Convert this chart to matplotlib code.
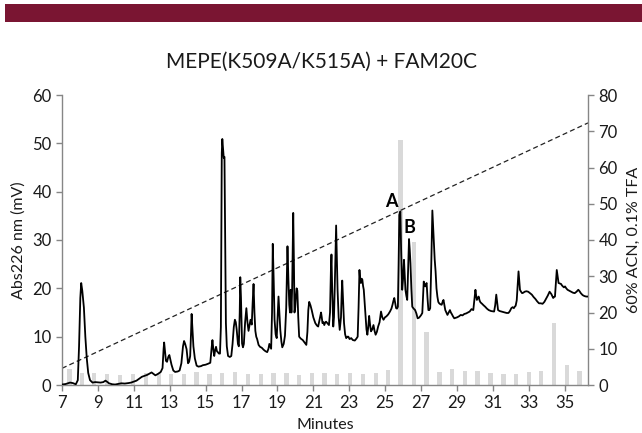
import matplotlib
matplotlib.use('Agg')
import matplotlib.pyplot as plt
from matplotlib.patches import Rectangle

plt.rcParams['font.family'] = ['Lato', 'DejaVu Sans']

# ---------------- data ----------------
trace_min = [7.0, 7.2, 7.45, 7.6, 7.77, 7.88, 7.95, 8.02, 8.07, 8.13, 8.22, 8.3, 8.38, 8.46, 8.56, 8.7, 8.85,
             9.0, 9.15, 9.3, 9.42, 9.5, 9.62, 9.8, 9.96, 10.1, 10.3, 10.5, 10.7, 10.85, 11.0, 11.15, 11.3, 11.45,
             11.6, 11.75, 11.9, 11.99, 12.1, 12.2, 12.35, 12.5, 12.6, 12.66, 12.69, 12.74, 12.79, 12.85, 12.92,
             12.98, 13.04, 13.1, 13.2, 13.3, 13.45, 13.55, 13.65, 13.74, 13.8, 13.86, 13.94, 14.02, 14.08, 14.14,
             14.19, 14.22, 14.26, 14.32, 14.4, 14.5, 14.6, 14.74, 14.85, 15.0, 15.14, 15.26, 15.33, 15.38, 15.44,
             15.48, 15.53, 15.58, 15.63, 15.68, 15.74, 15.8, 15.85, 15.9, 15.93, 15.97, 16.01, 16.05, 16.09, 16.13,
             16.18, 16.25, 16.35, 16.43, 16.5, 16.57, 16.63, 16.68, 16.73, 16.8, 16.85, 16.9, 16.93, 16.97, 17.03,
             17.08, 17.13, 17.2, 17.27, 17.33, 17.39, 17.45, 17.5, 17.57, 17.62, 17.67, 17.72, 17.77, 17.82, 17.87,
             17.95, 18.03, 18.13, 18.23, 18.33, 18.43, 18.5, 18.55, 18.6, 18.65, 18.7, 18.74, 18.79, 18.84, 18.9,
             18.96, 19.01, 19.06, 19.11, 19.16, 19.22, 19.27, 19.35, 19.42, 19.49, 19.56, 19.61, 19.66, 19.7, 19.74,
             19.78, 19.82, 19.88, 19.92, 19.95, 19.99, 20.03, 20.07, 20.11, 20.16, 20.21, 20.3, 20.41, 20.51, 20.61,
             20.67, 20.72, 20.77, 20.84, 20.91, 21.0, 21.11, 21.2, 21.27, 21.35, 21.43, 21.47, 21.51, 21.56, 21.61,
             21.67, 21.71, 21.78, 21.87, 21.93, 21.98, 22.01, 22.05, 22.11, 22.15, 22.19, 22.24, 22.27, 22.31, 22.35,
             22.41, 22.47, 22.54, 22.58, 22.61, 22.66, 22.71, 22.77, 22.83, 22.9, 22.95, 23.02, 23.11, 23.2, 23.31,
             23.4, 23.47, 23.52, 23.57, 23.61, 23.65, 23.69, 23.73, 23.77, 23.81, 23.86, 23.91, 23.96, 24.01, 24.06,
             24.11, 24.16, 24.21, 24.28, 24.35, 24.41, 24.47, 24.54, 24.61, 24.69, 24.77, 24.84, 24.91, 24.99, 25.07,
             25.17, 25.27, 25.35, 25.41, 25.46, 25.51, 25.56, 25.61, 25.66, 25.71, 25.75, 25.79, 25.85, 25.89, 25.95,
             26.0, 26.05, 26.09, 26.13, 26.18, 26.23, 26.28, 26.33, 26.37, 26.41, 26.46, 26.51, 26.59, 26.67, 26.74,
             26.81, 26.88, 26.95, 27.01, 27.07, 27.11, 27.15, 27.19, 27.23, 27.27, 27.31, 27.36, 27.41, 27.46, 27.51,
             27.57, 27.63, 27.67, 27.71, 27.76, 27.81, 27.86, 27.91, 27.96, 28.01, 28.08, 28.15, 28.2, 28.25, 28.3,
             28.35, 28.41, 28.47, 28.54, 28.61, 28.66, 28.71, 28.78, 28.85, 28.93, 29.01, 29.11, 29.21, 29.31, 29.41,
             29.51, 29.61, 29.71, 29.81, 29.91, 29.97, 30.03, 30.07, 30.11, 30.16, 30.21, 30.26, 30.31, 30.4, 30.48,
             30.57, 30.67, 30.77, 30.9, 31.07, 31.13, 31.19, 31.24, 31.29, 31.38, 31.47, 31.57, 31.67, 31.77, 31.87,
             31.95, 32.03, 32.1, 32.17, 32.22, 32.27, 32.33, 32.39, 32.43, 32.47, 32.51, 32.57, 32.63, 32.7, 32.77,
             32.87, 32.97, 33.07, 33.17, 33.27, 33.37, 33.47, 33.57, 33.67, 33.77, 33.87, 33.96, 34.06, 34.16, 34.26,
             34.36, 34.41, 34.46, 34.51, 34.56, 34.61, 34.66, 34.73, 34.8, 34.85, 34.9, 34.96, 35.02, 35.09, 35.16,
             35.26, 35.36, 35.46, 35.56, 35.66, 35.76, 35.83, 35.9, 36.0, 36.1, 36.2, 36.3]
trace_mv = [0.1, 0.2, 0.5, 0.4, 0.15, 1.0, 8.0, 18.0, 21.1, 19.5, 16.0, 10.0, 5.5, 2.5, 1.0, 0.5, 0.6,
            0.55, 0.5, 0.6, 0.9, 0.7, 0.35, 0.15, 0.1, 0.2, 0.35, 0.3, 0.4, 0.5, 0.7, 0.9, 1.3, 1.7,
            1.9, 2.1, 2.4, 2.6, 2.3, 2.0, 2.3, 2.7, 3.5, 7.5, 8.8, 7.0, 5.0, 4.8, 5.8,
            6.2, 5.2, 4.2, 3.0, 2.7, 2.8, 3.0, 4.5, 8.0, 9.1, 8.5, 7.4, 4.5, 4.8, 6.0,
            11.0, 14.7, 12.0, 8.0, 5.5, 4.0, 3.8, 3.9, 4.1, 4.2, 4.4, 4.6, 7.5, 9.3, 7.0,
            6.0, 7.2, 7.9, 7.0, 6.8, 6.5, 6.5, 12.0, 48.0, 50.9, 49.0, 47.0, 47.2, 30.0, 12.8,
            8.0, 6.0, 5.8, 6.0, 8.5, 12.0, 13.5, 13.0, 11.5, 8.5, 8.0, 15.0, 22.3, 18.0, 8.6,
            7.8, 8.5, 13.0, 15.9, 13.0, 11.2, 12.5, 13.5, 12.5, 17.0, 20.9, 15.0, 11.2, 10.0, 9.5,
            8.3, 7.9, 7.7, 7.3, 7.0, 6.8, 7.5, 8.5, 8.0, 7.5, 15.0, 29.2, 22.0, 13.5, 10.5,
            9.7, 14.0, 18.3, 15.0, 11.4, 9.0, 7.8, 8.5, 10.2, 16.0, 28.7, 22.0, 16.6, 15.0, 19.7,
            15.0, 20.0, 35.6, 25.0, 15.0, 16.0, 18.3, 20.0, 19.5, 14.0, 10.0, 9.6, 9.3, 8.8, 8.3,
            11.0, 15.5, 17.2, 16.5, 15.5, 14.0, 12.8, 12.3, 12.1, 13.5, 15.0, 14.0, 12.8, 13.0, 12.4,
            13.0, 13.1, 12.8, 12.4, 15.0, 24.0, 27.0, 20.0, 12.1, 14.0, 19.7, 28.0, 33.0, 26.0, 19.7,
            14.0, 11.4, 14.0, 19.0, 21.6, 17.0, 12.8, 10.5, 9.7, 10.0, 10.0, 9.5, 9.7, 9.3, 9.2,
            9.6, 10.0, 16.0, 23.8, 21.5, 21.1, 22.0, 21.8, 20.5, 19.7, 17.0, 14.2, 11.5, 10.4, 12.0,
            14.3, 12.5, 11.1, 11.5, 12.4, 11.2, 10.4, 11.0, 12.1, 13.0, 15.2, 14.0, 13.5, 14.0, 14.2,
            14.6, 15.2, 15.8, 16.6, 17.4, 18.0, 17.0, 15.9, 15.8, 16.2, 25.0, 35.2, 35.9, 28.0, 19.7,
            22.0, 25.9, 23.0, 19.7, 18.5, 17.6, 24.0, 30.2, 28.0, 25.2, 20.0, 16.2, 15.8, 15.5, 14.8,
            13.8, 13.9, 14.2, 14.5, 14.9, 18.0, 21.4, 20.6, 20.4, 20.8, 21.1, 18.0, 15.5, 15.5, 15.9,
            25.0, 36.1, 33.0, 30.1, 26.0, 23.5, 20.0, 18.3, 17.2, 16.9, 16.7, 16.6, 17.2, 17.6, 16.5,
            15.5, 15.0, 14.5, 15.0, 15.5, 15.0, 14.7, 14.2, 13.8, 13.9, 14.0, 14.2, 14.5, 14.4, 14.7,
            14.8, 15.0, 15.2, 15.7, 15.5, 17.5, 19.7, 18.5, 17.6, 18.0, 18.3, 17.5, 17.1, 16.8, 16.5,
            16.2, 15.8, 15.5, 15.3, 15.2, 16.5, 18.7, 17.0, 15.5, 15.3, 15.2, 15.1, 15.0, 14.9, 14.9,
            15.3, 15.9, 16.1, 15.9, 16.2, 16.4, 17.5, 21.0, 23.5, 21.5, 19.7, 19.3, 19.0, 19.1, 19.3,
            19.4, 19.3, 19.0, 18.7, 18.2, 17.8, 17.3, 16.9, 16.9, 16.8, 17.2, 17.8, 18.5, 19.3, 18.8,
            18.0, 18.2, 18.3, 21.0, 23.8, 22.5, 21.1, 21.0, 20.9, 20.6, 20.4, 20.2, 20.4, 20.0, 19.7,
            19.5, 19.3, 19.1, 19.0, 19.3, 19.7, 19.4, 19.0, 18.6, 18.4, 18.3, 18.3]

fraction_min = [7.41, 8.10, 8.80, 9.52, 10.23, 10.95, 11.67, 12.39, 13.08, 13.80, 14.50, 15.22, 15.93, 16.65,
                17.37, 18.07, 18.78, 19.50, 20.20, 20.91, 21.63, 22.33, 23.04, 23.76, 24.48, 25.15, 25.85,
                26.59, 27.31, 28.02, 28.72, 29.44, 30.15, 30.87, 31.59, 32.29, 33.00, 33.70, 34.42, 35.13, 35.83]
fraction_val = [4.3, 3.4, 3.2, 2.9, 2.8, 3.0, 3.2, 3.4, 2.9, 3.0, 3.6, 3.0, 3.2, 3.7,
                3.0, 3.0, 3.2, 3.2, 2.7, 3.2, 3.2, 3.0, 3.3, 2.9, 3.4, 4.1, 67.7,
                39.5, 14.7, 3.7, 4.5, 3.9, 4.0, 3.4, 3.0, 3.0, 3.5, 3.8, 17.1, 5.5, 3.9]

gradient_min = [7.0, 36.3]
gradient_pct = [4.6, 72.3]

peak_labels = ['A', 'B']
peak_min = [25.33, 26.35]
peak_mv = [38.0, 32.6]

x_ticks = [7, 9, 11, 13, 15, 17, 19, 21, 23, 25, 27, 29, 31, 33, 35]
title = 'MEPE(K509A/K515A) + FAM20C'

# ---------------- figure ----------------
W, H = 642, 433
fig = plt.figure(figsize=(W / 100, H / 100), dpi=100)
fig.patches.append(Rectangle((5 / W, 1 - 22 / H), 1, 18 / H, transform=fig.transFigure,
                             facecolor='#7a1532', edgecolor='none'))

ax = fig.add_axes([62 / W, 48 / H, 526 / W, 290 / H])
ax2 = ax.twinx()
ax.set_zorder(ax2.get_zorder() + 1)
ax.patch.set_visible(False)

spine_c = '#868686'
txt_c = '#1a1a1a'

ax2.bar(fraction_min, fraction_val, width=0.24, color='#d9d9d9', zorder=1)
ax2.plot(gradient_min, gradient_pct, color='#222222', lw=0.9, dashes=(4, 2.5), zorder=2)
ax.plot(trace_min, trace_mv, color='#000000', lw=1.3, zorder=3)

for lab, xm, ym in zip(peak_labels, peak_min, peak_mv):
    ax.text(xm, ym, lab, ha='center', va='center', fontsize=13, fontweight='bold', color='#000000')

ax.set_xlim(7, 36.3)
ax.set_ylim(0, 60)
ax2.set_ylim(0, 80)
ax.set_xticks(x_ticks)
ax.set_yticks(range(0, 61, 10))
ax2.set_yticks(range(0, 81, 10))

for a in (ax, ax2):
    a.spines['top'].set_visible(False)
    for s in ('left', 'right', 'bottom'):
        a.spines[s].set_color(spine_c)
        a.spines[s].set_linewidth(1.0)
    a.tick_params(direction='out', length=4, width=1, color=spine_c, labelcolor=txt_c, labelsize=12)
ax.spines['right'].set_visible(False)
ax2.spines['left'].set_visible(False)
ax2.spines['bottom'].set_visible(False)

ax.set_xlabel('Minutes', fontsize=11.5, color=txt_c, labelpad=5)
ax.set_ylabel('Abs226 nm (mV)', fontsize=11.5, color=txt_c, labelpad=5)
ax2.set_ylabel('60% ACN, 0.1% TFA', fontsize=11.5, color=txt_c, labelpad=7)

fig.text(321 / W, 1 - 62 / H, title, ha='center', va='center', fontsize=15, color=txt_c)

fig.savefig('out.png', dpi=100)
